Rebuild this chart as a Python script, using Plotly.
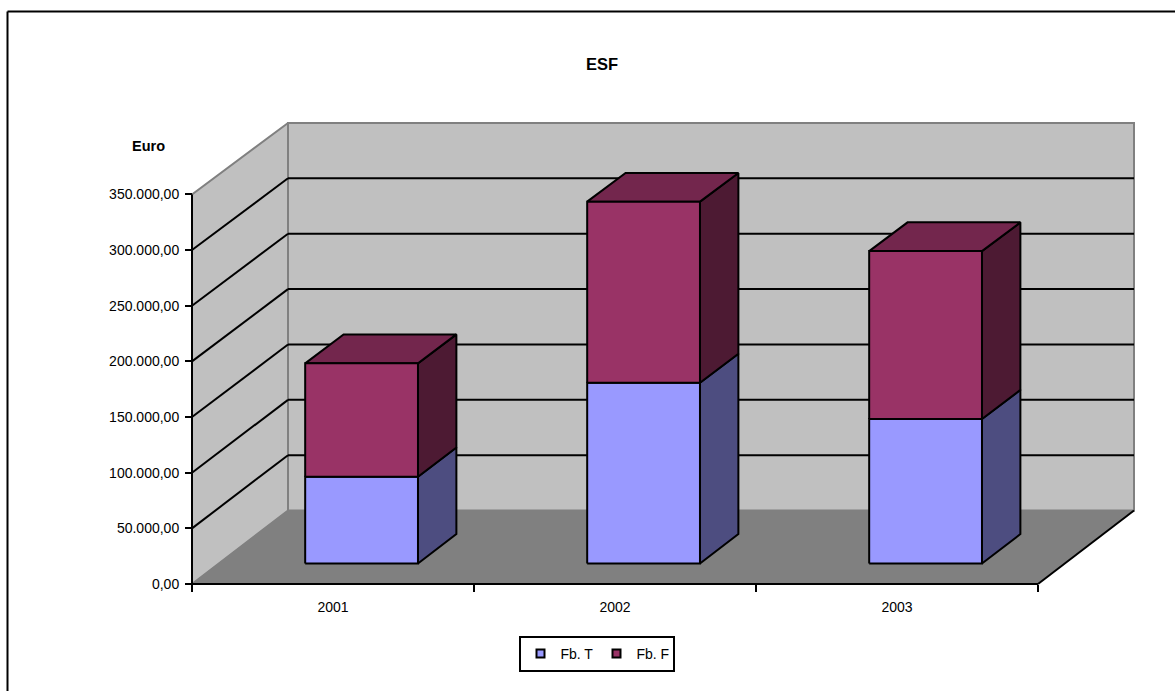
import plotly.graph_objects as go

# ---- data ----
categories = ["2001", "2002", "2003"]
fb_t = [78000, 162500, 130000]
fb_f = [102000, 163000, 151000]
y_ticks = [0, 50000, 100000, 150000, 200000, 250000, 300000, 350000]
y_labels = ["0,00", "50.000,00", "100.000,00", "150.000,00", "200.000,00",
            "250.000,00", "300.000,00", "350.000,00"]
series_names = ["Fb. T", "Fb. F"]
title_text = "ESF"
y_title = "Euro"

# ---- styles / layout constants ----
FONT = "Liberation Sans, Arial, sans-serif"
C_T, C_T_SIDE = "#9999FF", "#4D4D80"
C_F, C_F_SIDE, C_F_TOP = "#993366", "#4D1A33", "#73264D"
WALL, FLOOR, EDGE = "#C0C0C0", "#808080", "#808080"
L, R, T, B = 192, 1134, 122.5, 584         # chart box in page pixels
PAD = 5                                    # extra plot area so edge lines are not clipped
W, H = 1175, 691
X_PX = 282.0                               # pixels per category
Y_PX = 390.0 / 350000                      # pixels per euro
DEPTH_X = 96 / X_PX                        # full floor depth in x units
DEPTH_Y = 73.5 / Y_PX                      # full floor depth in y units
SHRINK = 0.005                             # back wall is slightly shorter than the front axis
BAR_W = 0.40
D0, D1 = 0.28, 0.68                        # bar depth span (fraction of floor)
BAR_SHIFT = 1.7 / X_PX
LW = 2


def P(x, y, d=0.0):
    """oblique projection of (category position, euro, depth)"""
    return x + d * DEPTH_X, y * (1 - d * SHRINK) + d * DEPTH_Y


def poly(pts, fill, line="black", lw=LW):
    xs, ys = zip(*(pts + [pts[0]]))
    return go.Scatter(x=list(xs), y=list(ys), mode="lines", fill="toself",
                      fillcolor=fill, line=dict(color=line, width=lw),
                      showlegend=False, hoverinfo="skip")


def seg(a, b, color="black", lw=LW):
    return go.Scatter(x=[a[0], b[0]], y=[a[1], b[1]], mode="lines",
                      line=dict(color=color, width=lw), showlegend=False,
                      hoverinfo="skip")


n = len(categories)
top = y_ticks[-1]
fig = go.Figure()

# walls and floor
fig.add_trace(poly([P(0, 0, 1), P(n, 0, 1), P(n, top, 1), P(0, top, 1)], WALL, EDGE, LW))
fig.add_trace(poly([P(0, 0, 0), P(0, 0, 1), P(0, top, 1), P(0, top, 0)], WALL, EDGE, LW))
fig.add_trace(poly([P(0, 0, 0), P(n, 0, 0), P(n, 0, 1), P(0, 0, 1)], FLOOR, FLOOR, 1))

# gridlines
for v in y_ticks[1:-1]:
    fig.add_trace(seg(P(0, v, 0), P(0, v, 1)))
    fig.add_trace(seg(P(0, v, 1), P(n, v, 1)))

# axis lines over floor
fig.add_trace(seg(P(0, 0, 0), P(0, top, 0)))
fig.add_trace(seg(P(0, 0, 0), P(n, 0, 0)))
fig.add_trace(seg(P(n, 0, 0), P(n, 0, 1)))


def box(x0, x1, y0, y1, front, side, topc=None):
    fig.add_trace(poly([P(x1, y0, D0), P(x1, y0, D1), P(x1, y1, D1), P(x1, y1, D0)], side))
    if topc:
        fig.add_trace(poly([P(x0, y1, D0), P(x1, y1, D0), P(x1, y1, D1), P(x0, y1, D1)], topc))
    fig.add_trace(poly([P(x0, y0, D0), P(x1, y0, D0), P(x1, y1, D0), P(x0, y1, D0)], front))


for i in range(n):
    c = i + 0.5 + BAR_SHIFT
    x0, x1 = c - BAR_W / 2, c + BAR_W / 2
    box(x0, x1, 0, fb_t[i], C_T, C_T_SIDE)
    box(x0, x1, fb_t[i], fb_t[i] + fb_f[i], C_F, C_F_SIDE, C_F_TOP)

# legend entries
for name, col in zip(series_names, [C_T, C_F]):
    fig.add_trace(go.Scatter(x=[None], y=[None], mode="markers", name=name,
                             marker=dict(symbol="square", size=8, color=col,
                                         line=dict(color="black", width=2))))

PL, PR, PT, PB = L - PAD, R + PAD, T - PAD, B + PAD


def px(x):
    return (x - PL) / (PR - PL)


def py(y):
    return (PB - y) / (PB - PT)


fig.update_layout(
    width=W, height=H, autosize=False,
    margin=dict(l=PL, r=W - PR, t=PT, b=H - PB, pad=0),
    paper_bgcolor="white", plot_bgcolor="rgba(0,0,0,0)",
    font=dict(family=FONT, size=14, color="black"),
    xaxis=dict(range=[-PAD / X_PX, n + DEPTH_X + PAD / X_PX], showgrid=False, zeroline=False,
               showline=False, anchor="free", position=py(B),
               tickmode="array", tickvals=[i + 0.5 for i in range(n)], ticktext=categories,
               ticks="", ticklabelstandoff=13,
               minor=dict(tickmode="array", tickvals=list(range(n + 1)), ticks="outside",
                          ticklen=7, tickwidth=2, tickcolor="black", showgrid=False)),
    yaxis=dict(range=[-PAD / Y_PX, (B - T + PAD) / Y_PX], showgrid=False, zeroline=False,
               showline=False, anchor="free", position=px(L),
               tickmode="array", tickvals=y_ticks, ticktext=y_labels,
               ticks="outside", ticklen=7, tickwidth=2, tickcolor="black",
               ticklabelstandoff=3),
    legend=dict(orientation="h", x=px(596.5), xanchor="center", y=py(654), yanchor="middle",
                bordercolor="black", borderwidth=2, bgcolor="white",
                font=dict(size=14), entrywidth=31, entrywidthmode="pixels",
                itemwidth=30, traceorder="normal"),
    annotations=[
        dict(text=f"<b>{title_text}</b>", x=px(602), y=py(63), xref="paper", yref="paper",
             xanchor="center", yanchor="middle", showarrow=False, font=dict(size=16.5)),
        dict(text=f"<b>{y_title}</b>", x=px(148), y=py(146), xref="paper", yref="paper",
             xanchor="center", yanchor="middle", showarrow=False, font=dict(size=14.5)),
    ],
    shapes=[
        dict(type="line", xref="paper", yref="paper", x0=px(7.5), x1=px(7.5), y0=py(11), y1=py(H + 2),
             line=dict(color="black", width=2)),
        dict(type="line", xref="paper", yref="paper", x0=px(7.5), x1=px(W + 2), y0=py(11), y1=py(11),
             line=dict(color="black", width=2)),
    ],
)

fig.write_html("out.html", config={"displayModeBar": False},
               post_script="document.body.style.margin='0';")
